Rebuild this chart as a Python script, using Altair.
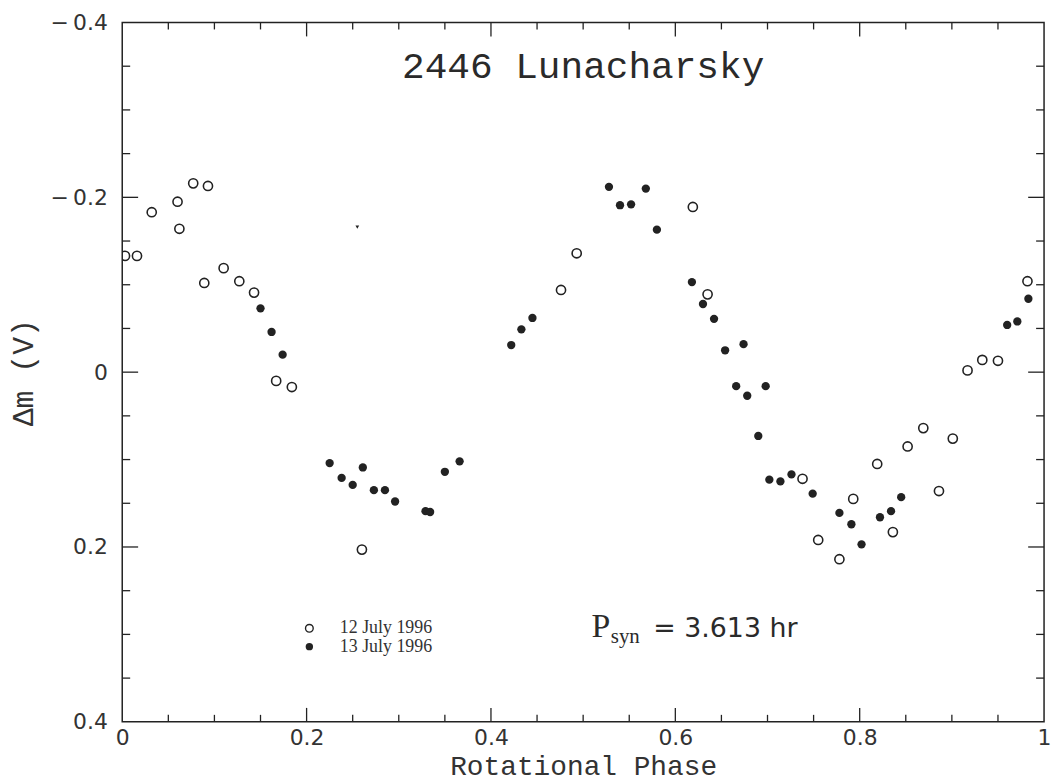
import altair as alt
import pandas as pd

# --- data -------------------------------------------------------------------
open_phase = [0.003, 0.016, 0.032, 0.060, 0.062, 0.077, 0.093, 0.089, 0.110, 0.127,
              0.143, 0.167, 0.184, 0.260, 0.476, 0.493, 0.619, 0.635, 0.738, 0.755,
              0.778, 0.793, 0.836, 0.819, 0.852, 0.869, 0.886, 0.901, 0.917, 0.933,
              0.950, 0.982]
open_dm = [-0.133, -0.133, -0.183, -0.195, -0.164, -0.216, -0.213, -0.102, -0.119, -0.104,
           -0.091, 0.010, 0.017, 0.203, -0.094, -0.136, -0.189, -0.089, 0.122, 0.192,
           0.214, 0.145, 0.183, 0.105, 0.085, 0.064, 0.136, 0.076, -0.002, -0.014,
           -0.013, -0.104]

filled_phase = [0.150, 0.162, 0.174, 0.225, 0.238, 0.250, 0.261, 0.273, 0.285, 0.296,
                0.329, 0.334, 0.350, 0.366, 0.422, 0.433, 0.445, 0.528, 0.540, 0.552,
                0.568, 0.580, 0.618, 0.630, 0.642, 0.654, 0.674, 0.666, 0.678, 0.698,
                0.690, 0.702, 0.714, 0.726, 0.749, 0.778, 0.791, 0.802, 0.822, 0.834,
                0.845, 0.960, 0.971, 0.983]
filled_dm = [-0.073, -0.046, -0.020, 0.104, 0.121, 0.129, 0.109, 0.135, 0.135, 0.148,
             0.159, 0.160, 0.114, 0.102, -0.031, -0.049, -0.062, -0.212, -0.191, -0.192,
             -0.210, -0.163, -0.103, -0.078, -0.061, -0.025, -0.032, 0.016, 0.027, 0.016,
             0.073, 0.123, 0.125, 0.117, 0.139, 0.161, 0.174, 0.197, 0.166, 0.159,
             0.143, -0.054, -0.058, -0.084]

stray_phase = [0.255]
stray_dm = [-0.166]

x_major = [0.2, 0.4, 0.6, 0.8]
x_minor = [0.05, 0.1, 0.15, 0.25, 0.3, 0.35, 0.45, 0.5, 0.55, 0.65, 0.7, 0.75,
           0.85, 0.9, 0.95]
y_major = [-0.2, 0.0, 0.2]
y_minor = [-0.35, -0.3, -0.25, -0.15, -0.1, -0.05, 0.05, 0.1, 0.15, 0.25, 0.3, 0.35]
x_labels = [0, 0.2, 0.4, 0.6, 0.8, 1]
y_labels = [-0.4, -0.2, 0, 0.2, 0.4]

legend_labels = ["12 July 1996", "13 July 1996"]
legend_x = [0.203, 0.203]
legend_text_x = [0.236, 0.236]
legend_y = [0.293, 0.314]

title_text = ["2446 Lunacharsky"]
title_x = [0.5]
title_y = [-0.337]

psyn_parts = ["P", "syn", "= 3.613 hr"]
psyn_x = [0.509, 0.530, 0.576]
psyn_y = [0.3025, 0.310, 0.3025]

# --- layout ----------------------------------------------------------------
W, H = 928, 704
INK = "#222222"

xs = alt.Scale(domain=[0, 1], nice=False, zero=False)
ys = alt.Scale(domain=[-0.4, 0.4], nice=False, zero=False, reverse=True)

x_axis = alt.Axis(values=x_labels, ticks=False, domain=False, grid=False,
                  labelExpr="datum.value == 0 ? '0' : (datum.value == 1 ? '1' : format(datum.value, '.1f'))",
                  labelFont="DejaVu Sans", labelFontSize=22, labelColor="#333333",
                  labelPadding=6, labelFlush=False, labelOverlap=False,
                  title="Rotational Phase", titleFont="Liberation Mono", titleFontSize=28,
                  titleFontWeight="normal", titleColor="#333333",
                  titleBaseline="alphabetic", titleY=53)
y_axis = alt.Axis(values=y_labels, ticks=False, domain=False, grid=False,
                  labelExpr="datum.value < 0 ? '\u2212\u2009' + format(-datum.value, '.1f') : (datum.value == 0 ? '0' : format(datum.value, '.1f'))",
                  labelFont="DejaVu Sans", labelFontSize=22, labelColor="#333333",
                  labelPadding=15, labelFlush=False, labelOverlap=False,
                  title="\u0394m (V)", titleFont="Liberation Mono", titleFontSize=30,
                  titleFontWeight="normal", titleColor="#333333", titlePadding=12)


def X(field):
    return alt.X(field, scale=xs, axis=x_axis)


def Y(field):
    return alt.Y(field, scale=ys, axis=y_axis)


df_open = pd.DataFrame({"phase": open_phase, "dm": open_dm})
df_filled = pd.DataFrame({"phase": filled_phase, "dm": filled_dm})
df_stray = pd.DataFrame({"phase": stray_phase, "dm": stray_dm})

opens = alt.Chart(df_open).mark_point(
    shape="circle", filled=False, size=85, strokeWidth=1.6, color=INK, opacity=1, clip=True
).encode(x=X("phase:Q"), y=Y("dm:Q"))

filled = alt.Chart(df_filled).mark_point(
    shape="circle", filled=True, size=70, color=INK, opacity=1, clip=True
).encode(x=X("phase:Q"), y=Y("dm:Q"))

stray = alt.Chart(df_stray).mark_point(
    shape="triangle-down", filled=True, size=14, color=INK, opacity=1
).encode(x=X("phase:Q"), y=Y("dm:Q"))


def xticks(vals, length):
    d = pd.DataFrame({"v": vals})
    b = alt.Chart(d).mark_rule(color=INK, strokeWidth=1.3).encode(
        x=X("v:Q"), y=alt.value(H), y2=alt.value(H - length))
    t = alt.Chart(d).mark_rule(color=INK, strokeWidth=1.3).encode(
        x=X("v:Q"), y=alt.value(0), y2=alt.value(length))
    return [b, t]


def yticks(vals, length):
    d = pd.DataFrame({"v": vals})
    l = alt.Chart(d).mark_rule(color=INK, strokeWidth=1.3).encode(
        y=Y("v:Q"), x=alt.value(0), x2=alt.value(length))
    r = alt.Chart(d).mark_rule(color=INK, strokeWidth=1.3).encode(
        y=Y("v:Q"), x=alt.value(W), x2=alt.value(W - length))
    return [l, r]


ticks = xticks(x_major, 14) + xticks(x_minor, 7) + yticks(y_major, 16) + yticks(y_minor, 8)

# title inside the plot
df_title = pd.DataFrame({"t": title_text, "x": title_x, "y": title_y})
title = alt.Chart(df_title).mark_text(
    font="Liberation Mono", fontSize=38, color="#2a2a2a", align="center", baseline="alphabetic"
).encode(x=X("x:Q"), y=Y("y:Q"), text="t:N")

# legend
df_leg = pd.DataFrame({"label": legend_labels, "x": legend_x, "tx": legend_text_x, "y": legend_y,
                       "kind": ["open", "filled"]})
leg_open = alt.Chart(df_leg).transform_filter(alt.datum.kind == "open").mark_point(
    shape="circle", filled=False, size=60, strokeWidth=1.4, color=INK, opacity=1
).encode(x=X("x:Q"), y=Y("y:Q"))
leg_filled = alt.Chart(df_leg).transform_filter(alt.datum.kind == "filled").mark_point(
    shape="circle", filled=True, size=55, color=INK, opacity=1
).encode(x=X("x:Q"), y=Y("y:Q"))
leg_text = alt.Chart(df_leg).mark_text(
    font="Liberation Serif", fontSize=18, color="#333333", align="left", baseline="middle"
).encode(x=X("tx:Q"), y=Y("y:Q"), text="label:N")

# period annotation
df_p = pd.DataFrame({"t": psyn_parts, "x": psyn_x, "y": psyn_y})
p_main = alt.Chart(df_p.iloc[[0]]).mark_text(
    font="Liberation Serif", fontSize=34, color="#2a2a2a", align="left", baseline="alphabetic"
).encode(x=X("x:Q"), y=Y("y:Q"), text="t:N")
p_sub = alt.Chart(df_p.iloc[[1]]).mark_text(
    font="Liberation Serif", fontSize=21, color="#2a2a2a", align="left", baseline="alphabetic"
).encode(x=X("x:Q"), y=Y("y:Q"), text="t:N")
p_rest = alt.Chart(df_p.iloc[[2]]).mark_text(
    font="DejaVu Sans", fontSize=27, color="#2a2a2a", align="left", baseline="alphabetic"
).encode(x=X("x:Q"), y=Y("y:Q"), text="t:N")

chart = alt.layer(
    opens, filled, stray, *ticks, title, leg_open, leg_filled, leg_text, p_main, p_sub, p_rest
).properties(
    width=W, height=H,
    padding={"left": 115, "top": 12, "right": 8, "bottom": 59},
    autosize=alt.AutoSizeParams(type="none"),
    background="white",
).configure_view(
    stroke=INK, strokeWidth=1.5
).configure_axis(grid=False)

chart.save("out.html", embed_options={"renderer": "svg", "actions": False})
